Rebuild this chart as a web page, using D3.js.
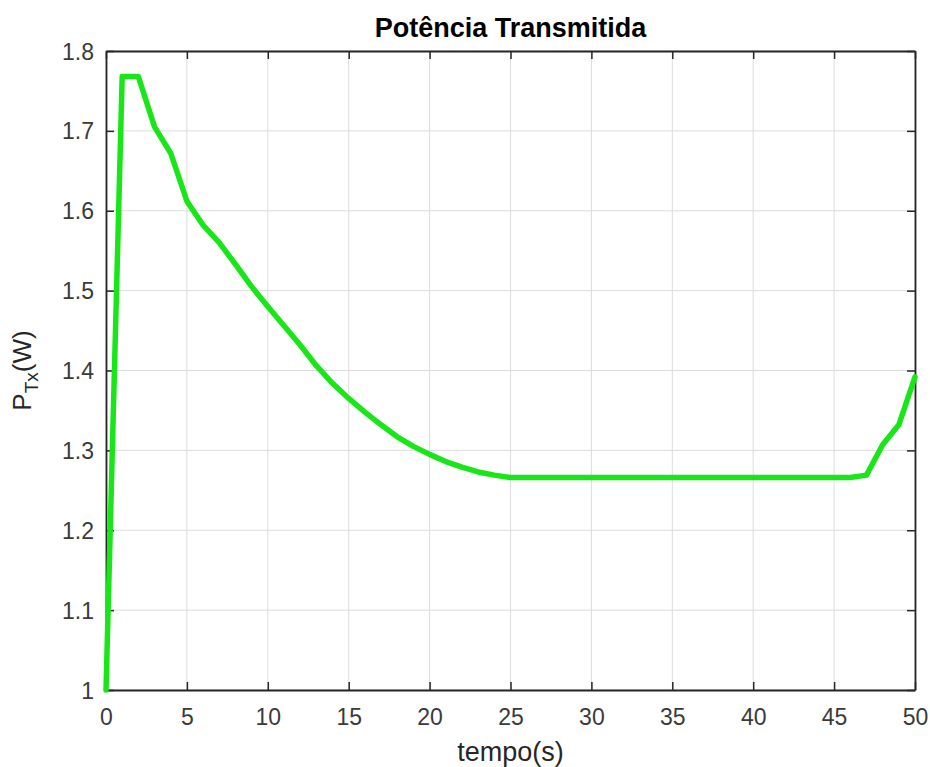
<!DOCTYPE html>
<html>
<head>
<meta charset="utf-8">
<script src="https://cdn.jsdelivr.net/npm/d3@7/dist/d3.min.js"></script>
<style>
  body { margin: 0; background: #ffffff; }
  svg { display: block; }
  text { font-family: "Liberation Sans", Arial, Helvetica, sans-serif; }
</style>
</head>
<body>
<svg id="chart" width="930" height="767"></svg>
<script>
const title = "Potência Transmitida";
const xLabel = "tempo(s)";
const times = [0,1,2,3,4,5,6,7,8,9,10,11,12,13,14,15,16,17,18,19,20,21,22,23,24,25,26,27,28,29,30,31,32,33,34,35,36,37,38,39,40,41,42,43,44,45,46,47,48,49,50];
const power = [1.000,1.768,1.768,1.705,1.672,1.612,1.582,1.560,1.533,1.505,1.480,1.456,1.432,1.406,1.384,1.365,1.348,1.332,1.317,1.305,1.295,1.286,1.279,1.273,1.269,1.266,1.266,1.266,1.266,1.266,1.266,1.266,1.266,1.266,1.266,1.266,1.266,1.266,1.266,1.266,1.266,1.266,1.266,1.266,1.266,1.266,1.266,1.269,1.307,1.332,1.392];
const xTicks = [0,5,10,15,20,25,30,35,40,45,50];
const yTicks = [1,1.1,1.2,1.3,1.4,1.5,1.6,1.7,1.8];
const yTickLabels = ["1","1.1","1.2","1.3","1.4","1.5","1.6","1.7","1.8"];

const L = 106, R = 915, T = 51, B = 690;
const svg = d3.select("#chart");
const x = d3.scaleLinear().domain([0, 50]).range([L, R]);
const y = d3.scaleLinear().domain([1, 1.8]).range([B, T]);
const axisColor = "#262626";
const gridColor = "#dcdcdc";

// grid
svg.append("g").selectAll("line").data(xTicks).join("line")
  .attr("x1", d => x(d)).attr("x2", d => x(d)).attr("y1", T).attr("y2", B)
  .attr("stroke", gridColor).attr("stroke-width", 1);
svg.append("g").selectAll("line").data(yTicks).join("line")
  .attr("x1", L).attr("x2", R).attr("y1", d => y(d)).attr("y2", d => y(d))
  .attr("stroke", gridColor).attr("stroke-width", 1);

// axes
const tickLen = 8;
const axB = svg.append("g").attr("transform", `translate(0,${B})`)
  .call(d3.axisBottom(x).tickValues(xTicks).tickSizeInner(-tickLen).tickSizeOuter(0).tickPadding(19).tickFormat(d3.format("d")));
const axT = svg.append("g").attr("transform", `translate(0,${T})`)
  .call(d3.axisTop(x).tickValues(xTicks).tickSizeInner(-tickLen).tickSizeOuter(0).tickFormat(""));
const axL = svg.append("g").attr("transform", `translate(${L},0)`)
  .call(d3.axisLeft(y).tickValues(yTicks).tickSizeInner(-tickLen).tickSizeOuter(0).tickPadding(12).tickFormat((d, i) => yTickLabels[i]));
const axR = svg.append("g").attr("transform", `translate(${R},0)`)
  .call(d3.axisRight(y).tickValues(yTicks).tickSizeInner(-tickLen).tickSizeOuter(0).tickFormat(""));

[axB, axT, axL, axR].forEach(g => {
  g.select(".domain").attr("stroke", axisColor).attr("stroke-width", 1.8);
  g.selectAll(".tick line").attr("stroke", axisColor).attr("stroke-width", 1.5);
  g.selectAll(".tick text").attr("fill", "#3a3a3a").attr("font-size", 23)
    .attr("font-family", "'Liberation Sans', Arial, sans-serif");
});
axB.selectAll(".tick text").attr("dy", "0.71em");
axL.selectAll(".tick text").attr("dy", "0.35em");

// line
svg.append("path")
  .datum(times.map((t, i) => [t, power[i]]))
  .attr("fill", "none")
  .attr("stroke", "#19e619")
  .attr("stroke-width", 5.5)
  .attr("stroke-linejoin", "round")
  .attr("stroke-linecap", "round")
  .attr("d", d3.line().x(d => x(d[0])).y(d => y(d[1])));

// title
svg.append("text").attr("x", (L + R) / 2).attr("y", 37)
  .attr("text-anchor", "middle").attr("font-size", 27).attr("font-weight", "bold")
  .attr("fill", "#000").text(title);

// x label
svg.append("text").attr("x", (L + R) / 2).attr("y", 761)
  .attr("text-anchor", "middle").attr("font-size", 27).attr("fill", "#262626").text(xLabel);

// y label
const yl = svg.append("text")
  .attr("transform", `translate(31,${(T + B) / 2}) rotate(-90)`)
  .attr("text-anchor", "middle").attr("font-size", 26).attr("fill", "#262626");
yl.append("tspan").text("P");
yl.append("tspan").attr("font-size", 19).attr("dy", 7).text("Tx");
yl.append("tspan").attr("dy", -7).text("(W)");
</script>
</body>
</html>
